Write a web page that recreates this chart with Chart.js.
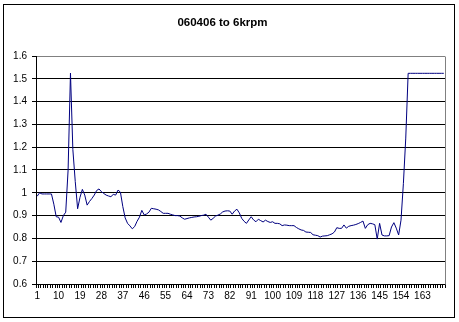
<!DOCTYPE html>
<html>
<head>
<meta charset="utf-8">
<script src="https://cdn.jsdelivr.net/npm/chart.js@4/dist/chart.umd.min.js"></script>
<style>
  html, body { margin: 0; padding: 0; background: #fff; }
  #wrap { width: 459px; height: 322px; position: relative; }
</style>
</head>
<body>
<div id="wrap"><canvas id="c" width="459" height="322"></canvas></div>
<script>
// Ratio readings, one per sample
const chartTitle = '060406 to 6krpm';

const ratio = [
  0.985, 1.0, 0.995, 0.995, 0.995, 0.995, 0.995, 0.95, 0.895, 0.893,
  0.87, 0.9, 0.915, 1.1, 1.525, 1.19, 1.05, 0.93, 0.98, 1.015,
  0.99, 0.946, 0.962, 0.975, 0.99, 1.01, 1.017, 1.005, 0.997, 0.99,
  0.986, 0.983, 0.993, 0.99, 1.012, 1.003, 0.94, 0.89, 0.866, 0.855,
  0.842, 0.852, 0.875, 0.893, 0.923, 0.903, 0.907, 0.915, 0.932, 0.93,
  0.928, 0.925, 0.918, 0.91, 0.91, 0.91, 0.906, 0.903, 0.9, 0.9,
  0.898, 0.89, 0.884, 0.887, 0.89, 0.892, 0.894, 0.895, 0.897, 0.9,
  0.902, 0.906, 0.893, 0.88, 0.888, 0.898, 0.902, 0.907, 0.916, 0.92,
  0.921, 0.92, 0.906, 0.92, 0.928, 0.912, 0.888, 0.875, 0.866, 0.881,
  0.895, 0.881, 0.873, 0.884, 0.878, 0.872, 0.88, 0.874, 0.87, 0.873,
  0.866, 0.866, 0.864, 0.856, 0.859, 0.858, 0.856, 0.856, 0.856, 0.848,
  0.842, 0.837, 0.835, 0.828, 0.827, 0.826, 0.816, 0.814, 0.812, 0.806,
  0.81, 0.811, 0.812, 0.816, 0.82, 0.828, 0.847, 0.844, 0.844, 0.859,
  0.845, 0.853, 0.856, 0.858, 0.861, 0.865, 0.87, 0.876, 0.844, 0.86,
  0.866, 0.864, 0.86, 0.797, 0.866, 0.815, 0.811, 0.811, 0.812, 0.85,
  0.869, 0.845, 0.815, 0.88, 1.04, 1.24, 1.524, 1.524, 1.524, 1.524,
  1.524, 1.524, 1.524, 1.524, 1.524, 1.524, 1.524, 1.524, 1.524, 1.524,
  1.524, 1.524
];

// Sample numbers along the category axis
const categories = ratio.map((_, i) => i + 1);

// Category labels that are printed under the axis
const shownTicks = [1, 10, 19, 28, 37, 46, 55, 64, 73, 82, 91, 100, 109, 118, 127, 136, 145, 154, 163];

// Value axis range
const yMin = 0.6;
const yMax = 1.6;
const yStep = 0.1;

const FONT = '"Liberation Sans", Arial, sans-serif';
Chart.defaults.font.family = FONT;
Chart.defaults.color = '#000';

// White page, grey plot-area edge on the right, black frame round the whole chart
const framePlugin = {
  id: 'frame',
  beforeDraw(chart) {
    const ctx = chart.ctx;
    ctx.save();
    ctx.fillStyle = '#fff';
    ctx.fillRect(0, 0, chart.width, chart.height);
    ctx.restore();
  },
  afterDraw(chart) {
    const { ctx, chartArea: a } = chart;
    ctx.save();
    ctx.lineWidth = 1;
    ctx.strokeStyle = '#808080';
    const xr = Math.floor(a.right) + 0.5;
    ctx.beginPath();
    ctx.moveTo(xr, Math.floor(a.top) + 0.5);
    ctx.lineTo(xr, Math.floor(a.bottom) + 0.5);
    ctx.stroke();
    ctx.strokeStyle = '#000';
    ctx.strokeRect(3.5, 4.5, 451, 313);
    ctx.restore();
  }
};

new Chart(document.getElementById('c'), {
  type: 'line',
  data: {
    labels: categories,
    datasets: [{
      data: ratio,
      borderColor: '#000080',
      borderWidth: 1,
      pointRadius: 0,
      pointHoverRadius: 0,
      tension: 0,
      fill: false
    }]
  },
  options: {
    responsive: false,
    animation: false,
    devicePixelRatio: 1,
    layout: { padding: { left: 0, right: 14, top: 0, bottom: 0 } },
    plugins: {
      legend: { display: false },
      tooltip: { enabled: false },
      title: {
        display: true,
        text: chartTitle,
        color: '#000',
        font: { family: FONT, size: 11.5, weight: 'bold' },
        padding: { top: 15.6, bottom: 26.6 }
      }
    },
    scales: {
      x: {
        type: 'category',
        offset: true,
        afterFit: s => { s.height = 38; },
        border: { display: true, color: '#000', width: 1 },
        grid: {
          display: true,
          drawOnChartArea: false,
          drawTicks: true,
          tickLength: 4,
          offset: true,
          color: '#000',
          tickColor: '#000'
        },
        ticks: {
          autoSkip: false,
          maxRotation: 0,
          minRotation: 0,
          padding: 2,
          color: '#000',
          font: { family: FONT, size: 10 },
          callback: (v, i) => shownTicks.includes(categories[i]) ? String(categories[i]) : ''
        }
      },
      y: {
        min: yMin,
        max: yMax,
        afterFit: s => { s.width = 36; },
        border: { display: true, color: '#000', width: 1 },
        grid: {
          color: c => (c.tick && c.tick.value > yMax - yStep / 2) ? '#808080' : '#000',
          tickColor: '#000',
          tickLength: 4,
          lineWidth: 1
        },
        ticks: {
          stepSize: yStep,
          padding: 5,
          color: '#000',
          font: { family: FONT, size: 10 },
          callback: v => String(Math.round(v * 10) / 10)
        }
      }
    }
  },
  plugins: [framePlugin]
});
</script>
</body>
</html>
